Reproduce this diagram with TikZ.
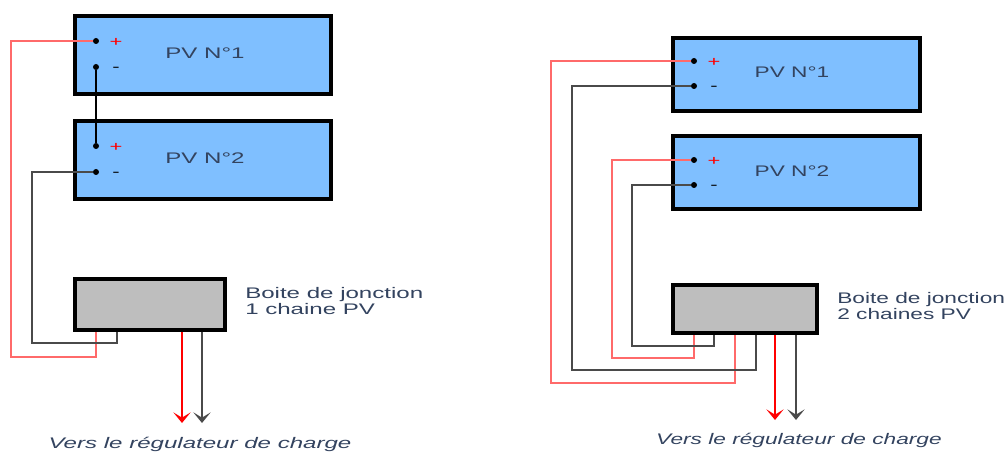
\documentclass[tikz,border=0pt]{standalone}
\usepackage{fontspec}
\setmainfont[FakeStretch=1.57]{Liberation Sans}
\newfontfamily\narrowface[FakeStretch=1.48]{Liberation Sans}
\usetikzlibrary{arrows.meta,positioning}
\definecolor{panelblue}{HTML}{7FBFFF}
\definecolor{boxgrey}{HTML}{BEBEBE}
\definecolor{textblue}{HTML}{33435F}
\definecolor{wirered}{HTML}{FF6A6A}
\definecolor{wireblack}{HTML}{4A4A4A}

\begin{document}
\begin{tikzpicture}[x=.75pt, y=-.75pt,
    panel/.style = {draw, line width=3.2pt, fill=panelblue, inner sep=0pt},
    jbox/.style = {draw, line width=3.2pt, fill=boxgrey, inner sep=0pt},
    term/.style = {circle, fill=black, inner sep=0pt, minimum size=4.5pt},
    pluslabel/.style = {text=red, font=\fontsize{10.5}{10.5}\selectfont, inner sep=0pt, yshift=-1.3pt},
    minuslabel/.style = {text=black, font=\fontsize{10.5}{10.5}\selectfont, inner sep=0pt, yshift=-1.5pt},
    pvname/.style = {text=textblue, font=\fontsize{11.5}{11.5}\selectfont, inner sep=0pt},
    info/.style = {text=textblue, font=\fontsize{11.5}{12}\selectfont, inner sep=0pt, align=left, anchor=west},
    dest/.style = {text=textblue, font=\fontsize{11.5}{11.5}\selectfont\itshape, inner sep=0pt},
    narrow/.style = {font=\fontsize{11.5}{12}\narrowface\selectfont},
    narrowit/.style = {font=\fontsize{11.5}{12}\narrowface\itshape\selectfont},
    redwire/.style = {wirered, line width=.8pt},
    blackwire/.style = {wireblack, line width=.8pt},
    outwire/.style = {line width=1.1pt, -{Stealth[length=8pt, width=13pt, inset=4pt]}}]
    \useasboundingbox (0,0) rectangle (1008,453);
    % left: one string
    \node[panel, minimum width=191.8pt, minimum height=58.3pt] (pva1) at (203,55) {};
    \node[panel, minimum width=191.8pt, minimum height=58.3pt, below=17.3pt of pva1] (pva2) {};
    \node[jbox, minimum width=112.3pt, minimum height=38pt] (boxa) at (150,304.5) {};
    \node[pvname] (namea1) at (205,53) {PV N°1};
    \node[pvname] (namea2) at (205,158) {PV N°2};
    \node[term] (a1p) at (96,41) {};
    \node[term] (a1m) at (96,67) {};
    \node[term] (a2p) at (96,146) {};
    \node[term] (a2m) at (96,172) {};
    \node[pluslabel, right=15pt of a1p.center, anchor=center] (a1plus) {+};
    \node[minuslabel, right=15pt of a1m.center, anchor=center] (a1minus) {-};
    \node[pluslabel, right=15pt of a2p.center, anchor=center] (a2plus) {+};
    \node[minuslabel, right=15pt of a2m.center, anchor=center] (a2minus) {-};
    \coordinate (aredc) at (11,357);
    \coordinate (ablackc) at (32,343);
    \coordinate (aredin) at (96,332);
    \coordinate (ablackin) at (117,332);
    \draw[redwire] (a1p) -| (aredc) -| (aredin);
    \draw[blackwire] (a2m) -| (ablackc) -| (ablackin);
    \draw[black, line width=.8pt] (a1m) -- (a2p);
    \coordinate (aredout) at (182,423);
    \coordinate (ablackout) at (202,423);
    \draw[outwire, red] (aredout |- boxa.south) -- (aredout);
    \draw[outwire, wireblack] (ablackout |- boxa.south) -- (ablackout);
    \node[info] (infoa) at (245,301) {Boite de jonction\\1 chaine PV};
    \node[dest] (desta) at (200,444) {Vers le régulateur de charge};

    % right: two strings
    \node[panel, minimum width=185pt, minimum height=54.5pt] (pvb1) at (796.5,74.5) {};
    \node[panel, minimum width=185pt, minimum height=54.5pt, below=15.75pt of pvb1] (pvb2) {};
    \node[jbox, minimum width=107.8pt, minimum height=35.8pt] (boxb) at (745,309) {};
    \node[pvname, narrow] (nameb1) at (792,72) {PV N°1};
    \node[pvname, narrow] (nameb2) at (792,171) {PV N°2};
    \node[term] (b1p) at (694,61) {};
    \node[term] (b1m) at (694,86) {};
    \node[term] (b2p) at (694,160) {};
    \node[term] (b2m) at (694,185) {};
    \node[pluslabel, right=15pt of b1p.center, anchor=center] (b1plus) {+};
    \node[minuslabel, right=15pt of b1m.center, anchor=center] (b1minus) {-};
    \node[pluslabel, right=15pt of b2p.center, anchor=center] (b2plus) {+};
    \node[minuslabel, right=15pt of b2m.center, anchor=center] (b2minus) {-};
    \coordinate (b1redc) at (551,383);
    \coordinate (b1blackc) at (572,370);
    \coordinate (b2redc) at (612,358);
    \coordinate (b2blackc) at (632,346);
    \coordinate (b1redin) at (735,335);
    \coordinate (b1blackin) at (756,335);
    \coordinate (b2redin) at (694,335);
    \coordinate (b2blackin) at (714,335);
    \draw[redwire] (b1p) -| (b1redc) -| (b1redin);
    \draw[blackwire] (b1m) -| (b1blackc) -| (b1blackin);
    \draw[redwire] (b2p) -| (b2redc) -| (b2redin);
    \draw[blackwire] (b2m) -| (b2blackc) -| (b2blackin);
    \coordinate (bredout) at (775,420);
    \coordinate (bblackout) at (796,420);
    \draw[outwire, red] (bredout |- boxb.south) -- (bredout);
    \draw[outwire, wireblack] (bblackout |- boxb.south) -- (bblackout);
    \node[info, narrow] (infob) at (837,306) {Boite de jonction\\2 chaines PV};
    \node[dest, narrowit] (destb) at (799,440) {Vers le régulateur de charge};
\end{tikzpicture}
\end{document}
